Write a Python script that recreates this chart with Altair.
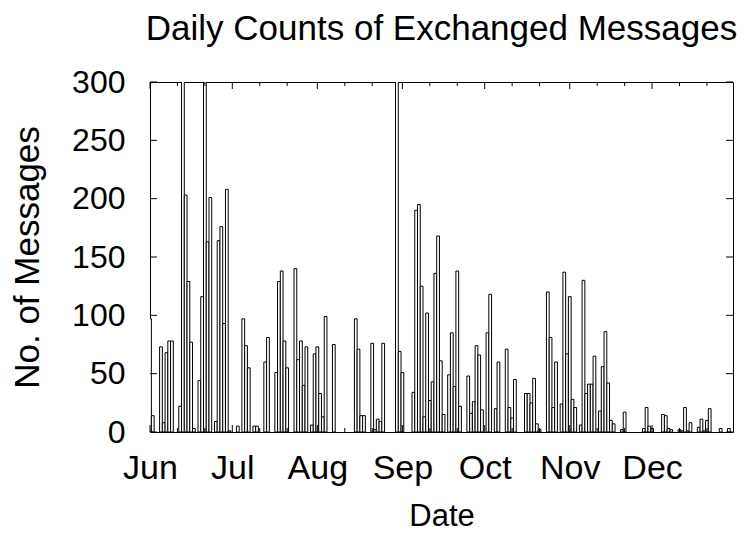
import altair as alt
import pandas as pd

YEAR = 2007
FONT = "Liberation Sans"

# Daily message counts, one list per month (day 1 .. last day)
month_nums = [6, 7, 8, 9, 10, 11, 12]
jun = [97, 14, 0, 0, 73, 8, 68, 78, 78, 0, 0, 22, 400, 203, 129, 77, 3, 0, 44, 116,
       380, 163, 201, 0, 9, 164, 176, 93, 208, 1]
jul = [0, 0, 5, 0, 97, 74, 55, 0, 5, 5, 0, 0, 60, 81, 0, 0, 51, 129, 138, 78,
       55, 0, 0, 140, 62, 78, 40, 73, 0, 6, 67]
aug = [73, 33, 13, 99, 0, 0, 75, 0, 0, 0, 0, 0, 0, 0, 97, 71, 14, 14, 0, 0,
       76, 2, 11, 9, 76, 0, 0, 0, 0, 330, 69]
sep = [51, 0, 0, 0, 34, 190, 195, 125, 13, 102, 27, 43, 136, 168, 61, 15, 0, 49, 85, 39,
       138, 22, 0, 0, 48, 16, 26, 74, 66, 19]
oct_ = [0, 85, 118, 0, 20, 60, 0, 0, 71, 21, 12, 45, 0, 0, 0, 33, 33, 25, 46, 7,
        2, 0, 0, 120, 81, 21, 60, 0, 24, 137, 67]
nov = [116, 28, 21, 0, 6, 130, 33, 41, 41, 65, 0, 18, 56, 86, 42, 10, 7, 0, 0, 2,
       17, 0, 0, 0, 0, 0, 0, 3, 21, 5]
dec = [3, 0, 0, 0, 15, 14, 3, 2, 0, 0, 2, 1, 21, 1, 8, 0, 0, 4, 11, 1,
       10, 20, 0, 0, 0, 3, 0, 0, 3, 0, 0]

y_tick_values = [0, 50, 100, 150, 200, 250, 300]
major_tick_dates = [f"{YEAR}-{m:02d}-01" for m in month_nums]
minor_tick_dates = [f"{YEAR}-{m:02d}-{d:02d}" for m in month_nums for d in (11, 21)]

rows = []
for m, vals in zip(month_nums, [jun, jul, aug, sep, oct_, nov, dec]):
    for i, v in enumerate(vals):
        rows.append({"date": f"{YEAR}-{m:02d}-{i + 1:02d}", "count": v})
df = pd.DataFrame(rows)

W, H = 583, 350
xscale = alt.Scale(
    type="utc",
    domain=[alt.DateTime(year=YEAR, month=6, date=1, utc=True),
            alt.DateTime(year=YEAR, month=12, date=30, hours=12, utc=True)],
)
yscale = alt.Scale(domain=[0, 300])

x_axis = alt.Axis(
    values=[alt.DateTime(year=YEAR, month=m, date=1, utc=True) for m in month_nums],
    format="%b", labelFontSize=34, labelPadding=46, labelBaseline="alphabetic",
    labelFlush=False, labelOverlap=False, ticks=False, tickSize=0, domain=False,
    grid=False, titleFontSize=31, titleBaseline="alphabetic", titleY=93,
)
y_axis = alt.Axis(
    values=y_tick_values, labelFontSize=32, labelPadding=25, ticks=False,
    tickSize=0, domain=False, grid=False, titleFontSize=35, titleAngle=270,
    titleX=-112, titleY=H / 2, titleAlign="center", titleBaseline="alphabetic",
)

bars = (
    alt.Chart(df)
    .transform_filter("datum.count > 0")
    .transform_calculate(
        t0="time(toDate(datum.date)) - 43200000",
        t1="time(toDate(datum.date)) + 43200000",
    )
    .mark_bar(fill="white", stroke="black", strokeWidth=1, clip=True)
    .encode(
        x=alt.X("t0:T", scale=xscale, title="Date", axis=x_axis),
        x2="t1:T",
        y=alt.Y("count:Q", scale=yscale, title="No. of Messages", axis=y_axis),
        y2=alt.datum(0),
    )
)


def xticks(dates, length, top):
    base = alt.Chart(pd.DataFrame({"d": dates})).transform_calculate(t="time(toDate(datum.d))")
    if top:
        yy = dict(y=alt.value(0), y2=alt.value(length))
    else:
        yy = dict(y=alt.value(H), y2=alt.value(H - length))
    return base.mark_rule(color="black", strokeWidth=1).encode(
        x=alt.X("t:T", scale=xscale, title="Date", axis=x_axis), **yy
    )


def yticks(left):
    base = alt.Chart(pd.DataFrame({"v": y_tick_values}))
    xx = dict(x=alt.value(0), x2=alt.value(7)) if left else dict(x=alt.value(W - 7), x2=alt.value(W))
    return base.mark_rule(color="black", strokeWidth=1).encode(
        y=alt.Y("v:Q", scale=yscale, title="No. of Messages", axis=y_axis), **xx
    )


layers = [
    bars,
    xticks(major_tick_dates, 7, False), xticks(major_tick_dates, 7, True),
    xticks(minor_tick_dates, 4, False), xticks(minor_tick_dates, 4, True),
    yticks(True), yticks(False),
]

chart = (
    alt.layer(*layers)
    .properties(
        width=W, height=H,
        title=alt.TitleParams(
            "Daily Counts of Exchanged Messages", fontSize=35, font=FONT, fontWeight="normal",
            color="black", anchor="middle", frame="group", baseline="alphabetic", offset=8,
            dy=17,
        ),
        autosize=alt.AutoSizeParams(type="none"),
        padding={"left": 142, "top": 74, "right": 5, "bottom": 101},
        background="white",
    )
    .configure_view(stroke="black", strokeWidth=1)
    .configure_axis(labelFont=FONT, titleFont=FONT, labelColor="black", titleColor="black",
                    titleFontWeight="normal")
)

chart.save("out.html", embed_options={"renderer": "svg", "actions": False})
